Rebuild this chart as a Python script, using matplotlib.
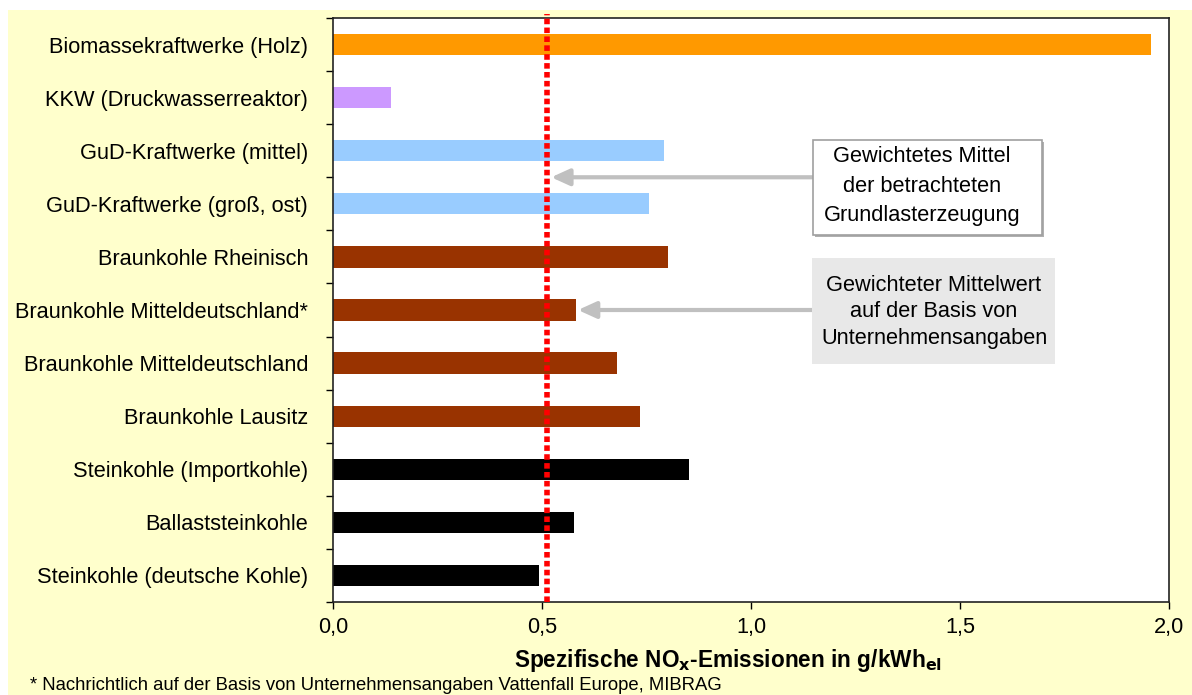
import matplotlib.pyplot as plt
from matplotlib.patches import Rectangle

plt.rcParams['font.family'] = ['Liberation Sans', 'DejaVu Sans']

# data, bottom to top
labels = ["Steinkohle (deutsche Kohle)", "Ballaststeinkohle",
          "Steinkohle (Importkohle)", "Braunkohle Lausitz",
          "Braunkohle Mitteldeutschland", "Braunkohle Mitteldeutschland*",
          "Braunkohle Rheinisch", "GuD-Kraftwerke (groß, ost)",
          "GuD-Kraftwerke (mittel)", "KKW (Druckwasserreaktor)",
          "Biomassekraftwerke (Holz)"]
values = [0.493, 0.577, 0.852, 0.734, 0.679, 0.581, 0.801, 0.756, 0.792,
          0.139, 1.957]
colors = ["#000000", "#000000", "#000000", "#993300", "#993300", "#993300",
          "#993300", "#99CCFF", "#99CCFF", "#CC99FF", "#FF9900"]
mean_value = 0.512
xticks = [0.0, 0.5, 1.0, 1.5, 2.0]
xtick_labels = ["0,0", "0,5", "1,0", "1,5", "2,0"]

fig = plt.figure(figsize=(11.92, 6.95), dpi=100, facecolor="white")
W, H = 1192, 695
fig.patches.append(Rectangle((8 / W, 0), 1 - 8 / W, 1 - 10 / H,
                             transform=fig.transFigure, facecolor="#FFFFCC",
                             edgecolor="none", zorder=-5))

ax = fig.add_axes([333 / W, 1 - 602 / H, (1169 - 333) / W, (602 - 18) / H])
ax.set_facecolor("white")

y = range(len(labels))
ax.barh(y, values, height=0.4, color=colors, zorder=2)
ax.set_ylim(-0.5, len(labels) - 0.5)
ax.set_xlim(0, 2.0)

ax.set_yticks(list(y))
ax.set_yticklabels(labels, fontsize=15.7)
ax.set_yticks([i - 0.5 for i in range(len(labels) + 1)], minor=True)
ax.tick_params(axis="y", which="major", length=0, pad=18)
ax.tick_params(axis="y", which="minor", length=5, width=1)
ax.set_xticks(xticks)
ax.set_xticklabels(xtick_labels, fontsize=15.7)
ax.tick_params(axis="x", length=5, width=1, pad=6)

for s in ax.spines.values():
    s.set_linewidth(1.2)
    s.set_color("#222222")

ax.set_xlabel(r"Spezifische NO$_\mathbf{x}$-Emissionen in g/kWh$_\mathbf{el}$",
              fontsize=16.3, fontweight="bold", labelpad=6)
ax.xaxis.label.set_x(0.4725)

# weighted mean line
ax.plot([mean_value, mean_value], [-0.5, len(labels) - 0.5 + 0.08],
        color="red", lw=4, linestyle=(0, (1, 0.6)), zorder=3, clip_on=False)

# annotation boxes (axes fraction)
ax.add_patch(Rectangle((0.5766, 0.6250), 0.2741, 0.1627,
                       transform=ax.transAxes, fc="#B0B0B0", ec="none",
                       zorder=4))
ax.add_patch(Rectangle((0.5742, 0.6284), 0.2741, 0.1627,
                       transform=ax.transAxes, fc="white", ec="#A0A0A0",
                       lw=1.2, zorder=5))
ax.text(0.7045, 0.7123,
        "Gewichtetes Mittel\nder betrachteten\nGrundlasterzeugung",
        transform=ax.transAxes, fontsize=15.7, ha="center", va="center",
        linespacing=1.55, zorder=6)

ax.add_patch(Rectangle((0.5730, 0.4075), 0.2906, 0.1815,
                       transform=ax.transAxes, fc="#E8E8E8", ec="none",
                       zorder=5))
ax.text(0.7189, 0.4966,
        "Gewichteter Mittelwert\nauf der Basis von\nUnternehmensangaben",
        transform=ax.transAxes, fontsize=15.7, ha="center", va="center",
        linespacing=1.32, zorder=6)

arrow = dict(arrowstyle="-|>,head_length=1.1,head_width=0.5",
             color="#C0C0C0", lw=3, shrinkA=0, shrinkB=0)
ax.annotate("", xy=(mean_value + 0.01, 7.5), xytext=(1.148, 7.5),
            arrowprops=arrow, zorder=4)
ax.annotate("", xy=(values[5] + 0.005, 5.0), xytext=(1.146, 5.0),
            arrowprops=arrow, zorder=4)

fig.text(30 / W, 1 - 686 / H,
         "* Nachrichtlich auf der Basis von Unternehmensangaben Vattenfall Europe, MIBRAG",
         fontsize=13.3, va="center", ha="left")

fig.savefig("out.png", dpi=100, facecolor=fig.get_facecolor())
